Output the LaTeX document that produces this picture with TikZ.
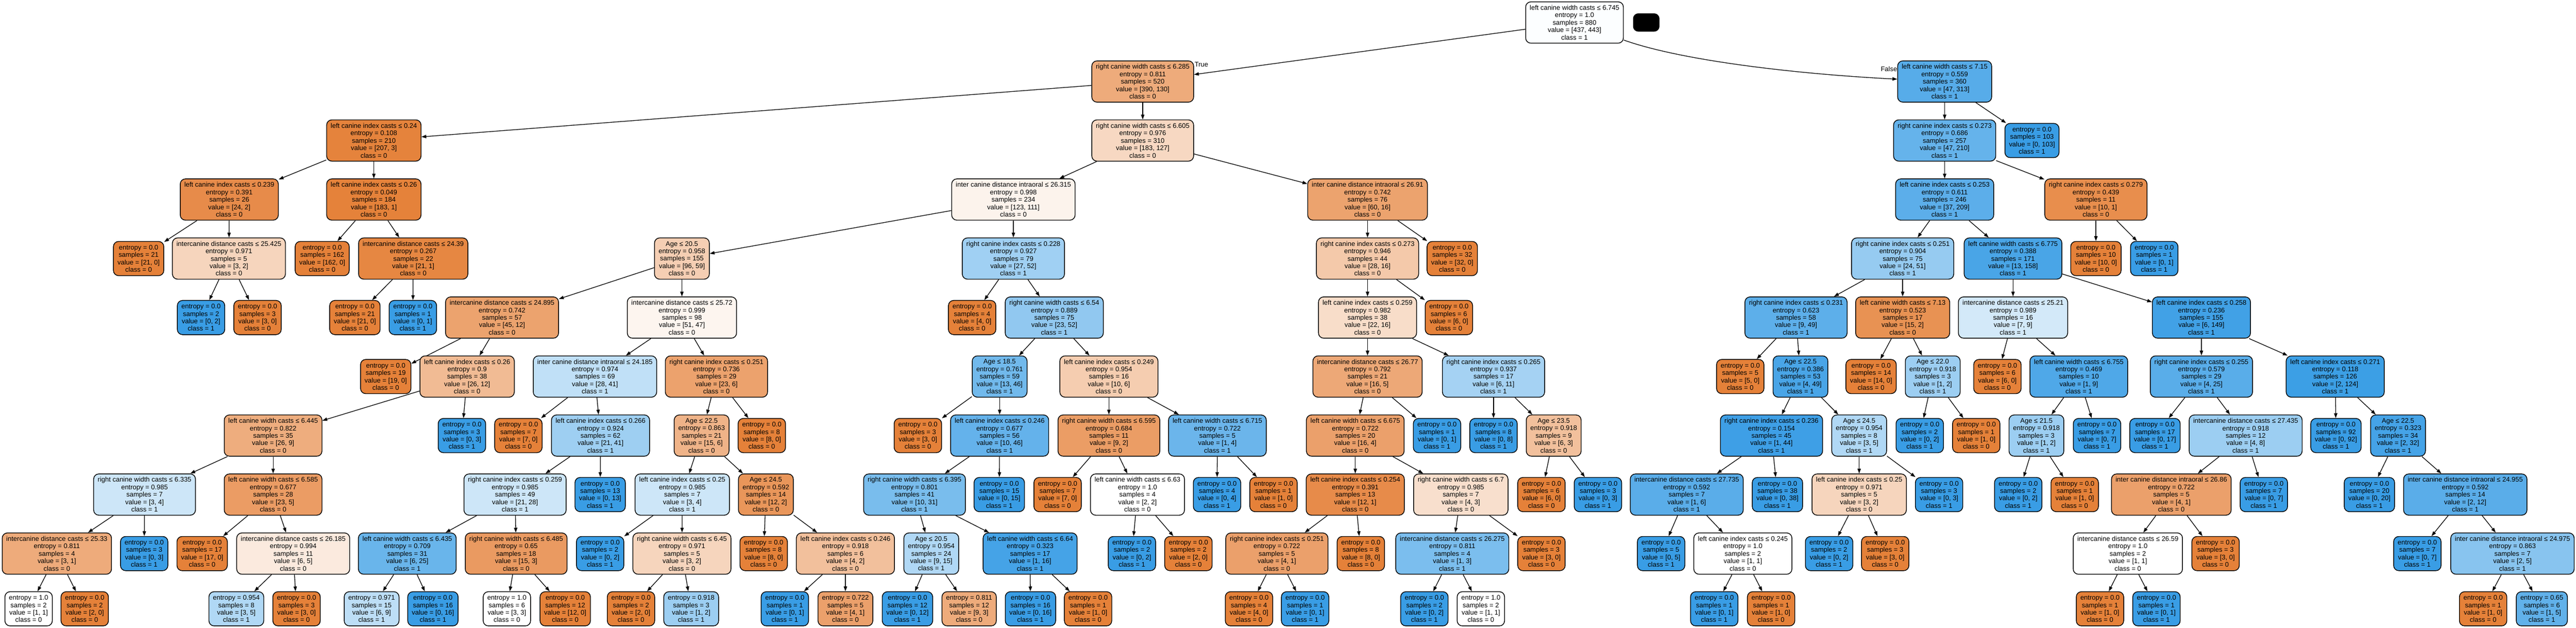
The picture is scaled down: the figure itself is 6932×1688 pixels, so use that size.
\documentclass[tikz,border=0pt]{standalone}
\usepackage{fontspec}
\setmainfont{Liberation Sans}
\usetikzlibrary{arrows.meta}
\definecolor{cz}{RGB}{229,129,57}
\definecolor{co}{RGB}{57,157,229}
\tikzset{
  valfill/.code 2 args={%
    \pgfmathsetmacro\tpp{max(#1,#2)/(#1+#2)}%
    \pgfmathsetmacro\tal{(2*\tpp-1)/\tpp*100}%
    \pgfmathparse{#1<#2}%
    \ifdim\pgfmathresult pt>0.5pt \def\tcc{co}\else\def\tcc{cz}\fi
    \edef\tmpk{\noexpand\pgfkeysalso{fill=\tcc!\tal!white}}\tmpk
  },
  box/.style={draw=black, line width=1pt, rounded corners=7pt, align=center,
    inner xsep=5.5pt, inner ysep=0pt, font=\fontsize{9}{10}\selectfont},
  inn/.style={box, minimum height=55.5pt},
  lf/.style={box, minimum height=46pt},
  edge/.style={draw=black, line width=0.9pt, -{Triangle[length=6.5pt,width=4.5pt]}},
  lab/.style={inner sep=0pt, font=\fontsize{9}{10}\selectfont},
}
\newcommand\mkint[9]{%
  \node[inn, valfill={#7}{#8}] (#1) at (#3) {#4\\entropy = #5\\samples = #6\\value = [#7, #8]\\class = #9};
  \draw[edge] (#2) -- (#1);}
\newcommand\mkleaf[8]{%
  \node[lf, valfill={#6}{#7}] (#1) at (#3) {entropy = #4\\samples = #5\\value = [#6, #7]\\class = #8};
  \draw[edge] (#2) -- (#1);}
\def\yA{60.5}\def\yB{219.2}\def\yC{377.8}\def\yD{536.5}\def\yE{695.2}\def\yF{853.8}
\def\yG{1012.5}\def\yH{1171.2}\def\yI{1329.8}\def\yJ{1488.5}\def\yK{1637}
\begin{document}
\begin{tikzpicture}[x=0.5pt,y=-0.5pt]
\useasboundingbox (0,0) rectangle (6932,1688);
% rank 0 / 1
\node[inn, valfill={437}{443}] (t) at (4237,\yA) {left canine width casts ≤ 6.745\\entropy = 1.0\\samples = 880\\value = [437, 443]\\class = 1};
\node[fill=black, rounded corners=7pt, minimum width=35.5pt, minimum height=24.5pt, inner sep=0pt] (blk) at (4430,\yA) {};
\node[inn, valfill={390}{130}] (t0) at (3075,\yB) {right canine width casts ≤ 6.285\\entropy = 0.811\\samples = 520\\value = [390, 130]\\class = 0};
\node[inn, valfill={47}{313}] (t1) at (5233,\yB) {left canine width casts ≤ 7.15\\entropy = 0.559\\samples = 360\\value = [47, 313]\\class = 1};
\draw[edge] (t) -- (t0);
\draw[edge] (t) .. controls (4530,165) and (4850,200) .. (t1);
\node[lab] (ltrue) at (3233,173) {True};
\node[lab] (lfalse) at (5083,186) {False};
% rank 2
\mkint{t00}{t0}{1006,\yC}{left canine index casts ≤ 0.24}{0.108}{210}{207}{3}{0}
\mkint{t01}{t0}{3075,\yC}{right canine width casts ≤ 6.605}{0.976}{310}{183}{127}{0}
\mkint{t10}{t1}{5233,\yC}{right canine index casts ≤ 0.273}{0.686}{257}{47}{210}{1}
\mkleaf{t11}{t1}{5468,\yC}{0.0}{103}{0}{103}{1}
% rank 3
\mkint{t000}{t00}{617,\yD}{left canine index casts ≤ 0.239}{0.391}{26}{24}{2}{0}
\mkint{t001}{t00}{1006,\yD}{left canine index casts ≤ 0.26}{0.049}{184}{183}{1}{0}
\mkint{t010}{t01}{2727,\yD}{inter canine distance intraoral ≤ 26.315}{0.998}{234}{123}{111}{0}
\mkint{t011}{t01}{3680,\yD}{inter canine distance intraoral ≤ 26.91}{0.742}{76}{60}{16}{0}
\mkint{t100}{t10}{5233,\yD}{left canine index casts ≤ 0.253}{0.611}{246}{37}{209}{1}
\mkint{t101}{t10}{5640,\yD}{right canine index casts ≤ 0.279}{0.439}{11}{10}{1}{0}
% rank 4
\mkleaf{t0000}{t000}{373,\yE}{0.0}{21}{21}{0}{0}
\mkint{t0001}{t000}{616,\yE}{intercanine distance casts ≤ 25.425}{0.971}{5}{3}{2}{0}
\mkleaf{t0010}{t001}{867,\yE}{0.0}{162}{162}{0}{0}
\mkint{t0011}{t001}{1112,\yE}{intercanine distance casts ≤ 24.39}{0.267}{22}{21}{1}{0}
\mkint{t0100}{t010}{1835,\yE}{Age ≤ 20.5}{0.958}{155}{96}{59}{0}
\mkint{t0101}{t010}{2727,\yE}{right canine index casts ≤ 0.228}{0.927}{79}{27}{52}{1}
\mkint{t0110}{t011}{3680,\yE}{right canine index casts ≤ 0.273}{0.946}{44}{28}{16}{0}
\mkleaf{t0111}{t011}{3908,\yE}{0.0}{32}{32}{0}{0}
\mkint{t1000}{t100}{5120,\yE}{right canine index casts ≤ 0.251}{0.904}{75}{24}{51}{1}
\mkint{t1001}{t100}{5417,\yE}{left canine width casts ≤ 6.775}{0.388}{171}{13}{158}{1}
\mkleaf{t1010}{t101}{5640,\yE}{0.0}{10}{10}{0}{0}
\mkleaf{t1011}{t101}{5797,\yE}{0.0}{1}{0}{1}{1}
% rank 5
\mkleaf{t00010}{t0001}{541,\yF}{0.0}{2}{0}{2}{1}
\mkleaf{t00011}{t0001}{693,\yF}{0.0}{3}{3}{0}{0}
\mkleaf{t00110}{t0011}{955,\yF}{0.0}{21}{21}{0}{0}
\mkleaf{t00111}{t0011}{1111,\yF}{0.0}{1}{0}{1}{1}
\mkint{t01000}{t0100}{1351,\yF}{intercanine distance casts ≤ 24.895}{0.742}{57}{45}{12}{0}
\mkint{t01001}{t0100}{1835,\yF}{intercanine distance casts ≤ 25.72}{0.999}{98}{51}{47}{0}
\mkleaf{t01010}{t0101}{2616,\yF}{0.0}{4}{4}{0}{0}
\mkint{t01011}{t0101}{2837,\yF}{right canine width casts ≤ 6.54}{0.889}{75}{23}{52}{1}
\mkint{t01100}{t0110}{3680,\yF}{left canine index casts ≤ 0.259}{0.982}{38}{22}{16}{0}
\mkleaf{t01101}{t0110}{3899,\yF}{0.0}{6}{6}{0}{0}
\mkint{t10000}{t1000}{4833,\yF}{right canine index casts ≤ 0.231}{0.623}{58}{9}{49}{1}
\mkint{t10001}{t1000}{5120,\yF}{left canine width casts ≤ 7.13}{0.523}{17}{15}{2}{0}
\mkint{t10010}{t1001}{5417,\yF}{intercanine distance casts ≤ 25.21}{0.989}{16}{7}{9}{1}
\mkint{t10011}{t1001}{5924,\yF}{left canine index casts ≤ 0.258}{0.236}{155}{6}{149}{1}
% rank 6
\mkleaf{t010000}{t01000}{1038,\yG}{0.0}{19}{19}{0}{0}
\mkint{t010001}{t01000}{1257,\yG}{left canine index casts ≤ 0.26}{0.9}{38}{26}{12}{0}
\mkint{t010010}{t01001}{1601,\yG}{inter canine distance intraoral ≤ 24.185}{0.974}{69}{28}{41}{1}
\mkint{t010011}{t01001}{1928,\yG}{right canine index casts ≤ 0.251}{0.736}{29}{23}{6}{0}
\mkint{t010110}{t01011}{2690,\yG}{Age ≤ 18.5}{0.761}{59}{13}{46}{1}
\mkint{t010111}{t01011}{2984,\yG}{left canine index casts ≤ 0.249}{0.954}{16}{10}{6}{0}
\mkint{t011000}{t01100}{3680,\yG}{intercanine distance casts ≤ 26.77}{0.792}{21}{16}{5}{0}
\mkint{t011001}{t01100}{4019,\yG}{right canine index casts ≤ 0.265}{0.937}{17}{6}{11}{1}
\mkleaf{t100000}{t10000}{4683,\yG}{0.0}{5}{5}{0}{0}
\mkint{t100001}{t10000}{4845,\yG}{Age ≤ 22.5}{0.386}{53}{4}{49}{1}
\mkleaf{t100010}{t10001}{5035,\yG}{0.0}{14}{14}{0}{0}
\mkint{t100011}{t10001}{5201,\yG}{Age ≤ 22.0}{0.918}{3}{1}{2}{1}
\mkleaf{t100100}{t10010}{5375,\yG}{0.0}{6}{6}{0}{0}
\mkint{t100101}{t10010}{5594,\yG}{left canine width casts ≤ 6.755}{0.469}{10}{1}{9}{1}
\mkint{t100110}{t10011}{5924,\yG}{right canine index casts ≤ 0.255}{0.579}{29}{4}{25}{1}
\mkint{t100111}{t10011}{6284,\yG}{left canine index casts ≤ 0.271}{0.118}{126}{2}{124}{1}
% rank 7
\mkint{t0100010}{t010001}{735,\yH}{left canine width casts ≤ 6.445}{0.822}{35}{26}{9}{0}
\mkleaf{t0100011}{t010001}{1243,\yH}{0.0}{3}{0}{3}{1}
\mkleaf{t0100100}{t010010}{1395,\yH}{0.0}{7}{7}{0}{0}
\mkint{t0100101}{t010010}{1616,\yH}{left canine index casts ≤ 0.266}{0.924}{62}{21}{41}{1}
\mkint{t0100110}{t010011}{1888,\yH}{Age ≤ 22.5}{0.863}{21}{15}{6}{0}
\mkleaf{t0100111}{t010011}{2050,\yH}{0.0}{8}{8}{0}{0}
\mkleaf{t0101100}{t010110}{2470,\yH}{0.0}{3}{3}{0}{0}
\mkint{t0101101}{t010110}{2690,\yH}{left canine index casts ≤ 0.246}{0.677}{56}{10}{46}{1}
\mkint{t0101110}{t010111}{2984,\yH}{right canine width casts ≤ 6.595}{0.684}{11}{9}{2}{0}
\mkint{t0101111}{t010111}{3276,\yH}{left canine width casts ≤ 6.715}{0.722}{5}{1}{4}{1}
\mkint{t0110000}{t011000}{3647,\yH}{left canine width casts ≤ 6.675}{0.722}{20}{16}{4}{0}
\mkleaf{t0110001}{t011000}{3867,\yH}{0.0}{1}{0}{1}{1}
\mkleaf{t0110010}{t011001}{4019,\yH}{0.0}{8}{0}{8}{1}
\mkint{t0110011}{t011001}{4181,\yH}{Age ≤ 23.5}{0.918}{9}{6}{3}{0}
\mkint{t1000010}{t100001}{4767,\yH}{right canine index casts ≤ 0.236}{0.154}{45}{1}{44}{1}
\mkint{t1000011}{t100001}{5003,\yH}{Age ≤ 24.5}{0.954}{8}{3}{5}{1}
\mkleaf{t1000110}{t100011}{5166,\yH}{0.0}{2}{0}{2}{1}
\mkleaf{t1000111}{t100011}{5318,\yH}{0.0}{1}{1}{0}{0}
\mkint{t1001010}{t100101}{5480,\yH}{Age ≤ 21.5}{0.918}{3}{1}{2}{1}
\mkleaf{t1001011}{t100101}{5643,\yH}{0.0}{7}{0}{7}{1}
\mkleaf{t1001100}{t100110}{5799,\yH}{0.0}{17}{0}{17}{1}
\mkint{t1001101}{t100110}{6043,\yH}{intercanine distance casts ≤ 27.435}{0.918}{12}{4}{8}{1}
\mkleaf{t1001110}{t100111}{6286,\yH}{0.0}{92}{0}{92}{1}
\mkint{t1001111}{t100111}{6453,\yH}{Age ≤ 22.5}{0.323}{34}{2}{32}{1}
% rank 8
\mkint{t01000100}{t0100010}{389,\yI}{right canine width casts ≤ 6.335}{0.985}{7}{3}{4}{1}
\mkint{t01000101}{t0100010}{735,\yI}{left canine width casts ≤ 6.585}{0.677}{28}{23}{5}{0}
\mkint{t01001010}{t0100101}{1386,\yI}{right canine index casts ≤ 0.259}{0.985}{49}{21}{28}{1}
\mkleaf{t01001011}{t0100101}{1615,\yI}{0.0}{13}{0}{13}{1}
\mkint{t01001100}{t0100110}{1836,\yI}{left canine index casts ≤ 0.25}{0.985}{7}{3}{4}{1}
\mkint{t01001101}{t0100110}{2061,\yI}{Age ≤ 24.5}{0.592}{14}{12}{2}{0}
\mkint{t01011010}{t0101101}{2461,\yI}{right canine width casts ≤ 6.395}{0.801}{41}{10}{31}{1}
\mkleaf{t01011011}{t0101101}{2689,\yI}{0.0}{15}{0}{15}{1}
\mkleaf{t01011100}{t0101110}{2846,\yI}{0.0}{7}{7}{0}{0}
\mkint{t01011101}{t0101110}{3061,\yI}{left canine width casts ≤ 6.63}{1.0}{4}{2}{2}{0}
\mkleaf{t01011110}{t0101111}{3275,\yI}{0.0}{4}{0}{4}{1}
\mkleaf{t01011111}{t0101111}{3427,\yI}{0.0}{1}{1}{0}{0}
\mkint{t01100000}{t0110000}{3647,\yI}{left canine index casts ≤ 0.254}{0.391}{13}{12}{1}{0}
\mkint{t01100001}{t0110000}{3931,\yI}{right canine width casts ≤ 6.7}{0.985}{7}{4}{3}{0}
\mkleaf{t01100110}{t0110011}{4148,\yI}{0.0}{6}{6}{0}{0}
\mkleaf{t01100111}{t0110011}{4300,\yI}{0.0}{3}{0}{3}{1}
\mkint{t10000100}{t1000010}{4539,\yI}{intercanine distance casts ≤ 27.735}{0.592}{7}{1}{6}{1}
\mkleaf{t10000101}{t1000010}{4783,\yI}{0.0}{38}{0}{38}{1}
\mkint{t10000110}{t1000011}{5003,\yI}{left canine index casts ≤ 0.25}{0.971}{5}{3}{2}{0}
\mkleaf{t10000111}{t1000011}{5218,\yI}{0.0}{3}{0}{3}{1}
\mkleaf{t10010100}{t1001010}{5431,\yI}{0.0}{2}{0}{2}{1}
\mkleaf{t10010101}{t1001010}{5583,\yI}{0.0}{1}{1}{0}{0}
\mkint{t10011010}{t1001101}{5843,\yI}{inter canine distance intraoral ≤ 26.86}{0.722}{5}{4}{1}{0}
\mkleaf{t10011011}{t1001101}{6092,\yI}{0.0}{7}{0}{7}{1}
\mkleaf{t10011110}{t1001111}{6376,\yI}{0.0}{20}{0}{20}{1}
\mkint{t10011111}{t1001111}{6634,\yI}{inter canine distance intraoral ≤ 24.955}{0.592}{14}{2}{12}{1}
% rank 9
\mkint{t010001000}{t01000100}{153,\yJ}{intercanine distance casts ≤ 25.33}{0.811}{4}{3}{1}{0}
\mkleaf{t010001001}{t01000100}{388,\yJ}{0.0}{3}{0}{3}{1}
\mkleaf{t010001010}{t01000101}{544,\yJ}{0.0}{17}{17}{0}{0}
\mkint{t010001011}{t01000101}{789,\yJ}{intercanine distance casts ≤ 26.185}{0.994}{11}{6}{5}{0}
\mkint{t010010100}{t01001010}{1096,\yJ}{left canine width casts ≤ 6.435}{0.709}{31}{6}{25}{1}
\mkint{t010010101}{t01001010}{1389,\yJ}{right canine width casts ≤ 6.485}{0.65}{18}{15}{3}{0}
\mkleaf{t010011000}{t01001100}{1615,\yJ}{0.0}{2}{0}{2}{1}
\mkint{t010011001}{t01001100}{1835,\yJ}{right canine width casts ≤ 6.45}{0.971}{5}{3}{2}{0}
\mkleaf{t010011010}{t01001101}{2055,\yJ}{0.0}{8}{8}{0}{0}
\mkint{t010011011}{t01001101}{2275,\yJ}{left canine index casts ≤ 0.246}{0.918}{6}{4}{2}{0}
\mkint{t010110100}{t01011010}{2506,\yJ}{Age ≤ 20.5}{0.954}{24}{9}{15}{1}
\mkint{t010110101}{t01011010}{2772,\yJ}{left canine width casts ≤ 6.64}{0.323}{17}{1}{16}{1}
\mkleaf{t010111010}{t01011101}{3046,\yJ}{0.0}{2}{0}{2}{1}
\mkleaf{t010111011}{t01011101}{3198,\yJ}{0.0}{2}{2}{0}{0}
\mkint{t011000000}{t01100000}{3436,\yJ}{right canine index casts ≤ 0.251}{0.722}{5}{4}{1}{0}
\mkleaf{t011000001}{t01100000}{3662,\yJ}{0.0}{8}{8}{0}{0}
\mkint{t011000010}{t01100001}{3908,\yJ}{intercanine distance casts ≤ 26.275}{0.811}{4}{1}{3}{1}
\mkleaf{t011000011}{t01100001}{4148,\yJ}{0.0}{3}{3}{0}{0}
\mkleaf{t100001000}{t10000100}{4470,\yJ}{0.0}{5}{0}{5}{1}
\mkint{t100001001}{t10000100}{4690,\yJ}{left canine index casts ≤ 0.245}{1.0}{2}{1}{1}{0}
\mkleaf{t100001100}{t10000110}{4922,\yJ}{0.0}{2}{0}{2}{1}
\mkleaf{t100001101}{t10000110}{5073,\yJ}{0.0}{3}{3}{0}{0}
\mkint{t100110100}{t10011010}{5726,\yJ}{intercanine distance casts ≤ 26.59}{1.0}{2}{1}{1}{0}
\mkleaf{t100110101}{t10011010}{5962,\yJ}{0.0}{3}{3}{0}{0}
\mkleaf{t100111110}{t10011111}{6505,\yJ}{0.0}{7}{0}{7}{1}
\mkint{t100111111}{t10011111}{6761,\yJ}{inter canine distance intraoral ≤ 24.975}{0.863}{7}{2}{5}{1}
% rank 10
\mkleaf{t0100010000}{t010001000}{77,\yK}{1.0}{2}{1}{1}{0}
\mkleaf{t0100010001}{t010001000}{228,\yK}{0.0}{2}{2}{0}{0}
\mkleaf{t0100010110}{t010001011}{636,\yK}{0.954}{8}{3}{5}{1}
\mkleaf{t0100010111}{t010001011}{798,\yK}{0.0}{3}{3}{0}{0}
\mkleaf{t0100101000}{t010010100}{1000,\yK}{0.971}{15}{6}{9}{1}
\mkleaf{t0100101001}{t010010100}{1165,\yK}{0.0}{16}{0}{16}{1}
\mkleaf{t0100101010}{t010010101}{1364,\yK}{1.0}{6}{3}{3}{0}
\mkleaf{t0100101011}{t010010101}{1521,\yK}{0.0}{12}{12}{0}{0}
\mkleaf{t0100110010}{t010011001}{1698,\yK}{0.0}{2}{2}{0}{0}
\mkleaf{t0100110011}{t010011001}{1860,\yK}{0.918}{3}{1}{2}{1}
\mkleaf{t0100110110}{t010011011}{2112,\yK}{0.0}{1}{0}{1}{1}
\mkleaf{t0100110111}{t010011011}{2275,\yK}{0.722}{5}{4}{1}{0}
\mkleaf{t0101101000}{t010110100}{2442,\yK}{0.0}{12}{0}{12}{1}
\mkleaf{t0101101001}{t010110100}{2608,\yK}{0.811}{12}{9}{3}{0}
\mkleaf{t0101101010}{t010110101}{2773,\yK}{0.0}{16}{0}{16}{1}
\mkleaf{t0101101011}{t010110101}{2928,\yK}{0.0}{1}{1}{0}{0}
\mkleaf{t0110000000}{t011000000}{3361,\yK}{0.0}{4}{4}{0}{0}
\mkleaf{t0110000001}{t011000000}{3512,\yK}{0.0}{1}{0}{1}{1}
\mkleaf{t0110000100}{t011000010}{3833,\yK}{0.0}{2}{0}{2}{1}
\mkleaf{t0110000101}{t011000010}{3985,\yK}{1.0}{2}{1}{1}{0}
\mkleaf{t1000010010}{t100001001}{4613,\yK}{0.0}{1}{0}{1}{1}
\mkleaf{t1000010011}{t100001001}{4766,\yK}{0.0}{1}{1}{0}{0}
\mkleaf{t1001101000}{t100110100}{5651,\yK}{0.0}{1}{1}{0}{0}
\mkleaf{t1001101001}{t100110100}{5803,\yK}{0.0}{1}{0}{1}{1}
\mkleaf{t1001111110}{t100111111}{6682,\yK}{0.0}{1}{1}{0}{0}
\mkleaf{t1001111111}{t100111111}{6840,\yK}{0.65}{6}{1}{5}{1}
\end{tikzpicture}
\end{document}
